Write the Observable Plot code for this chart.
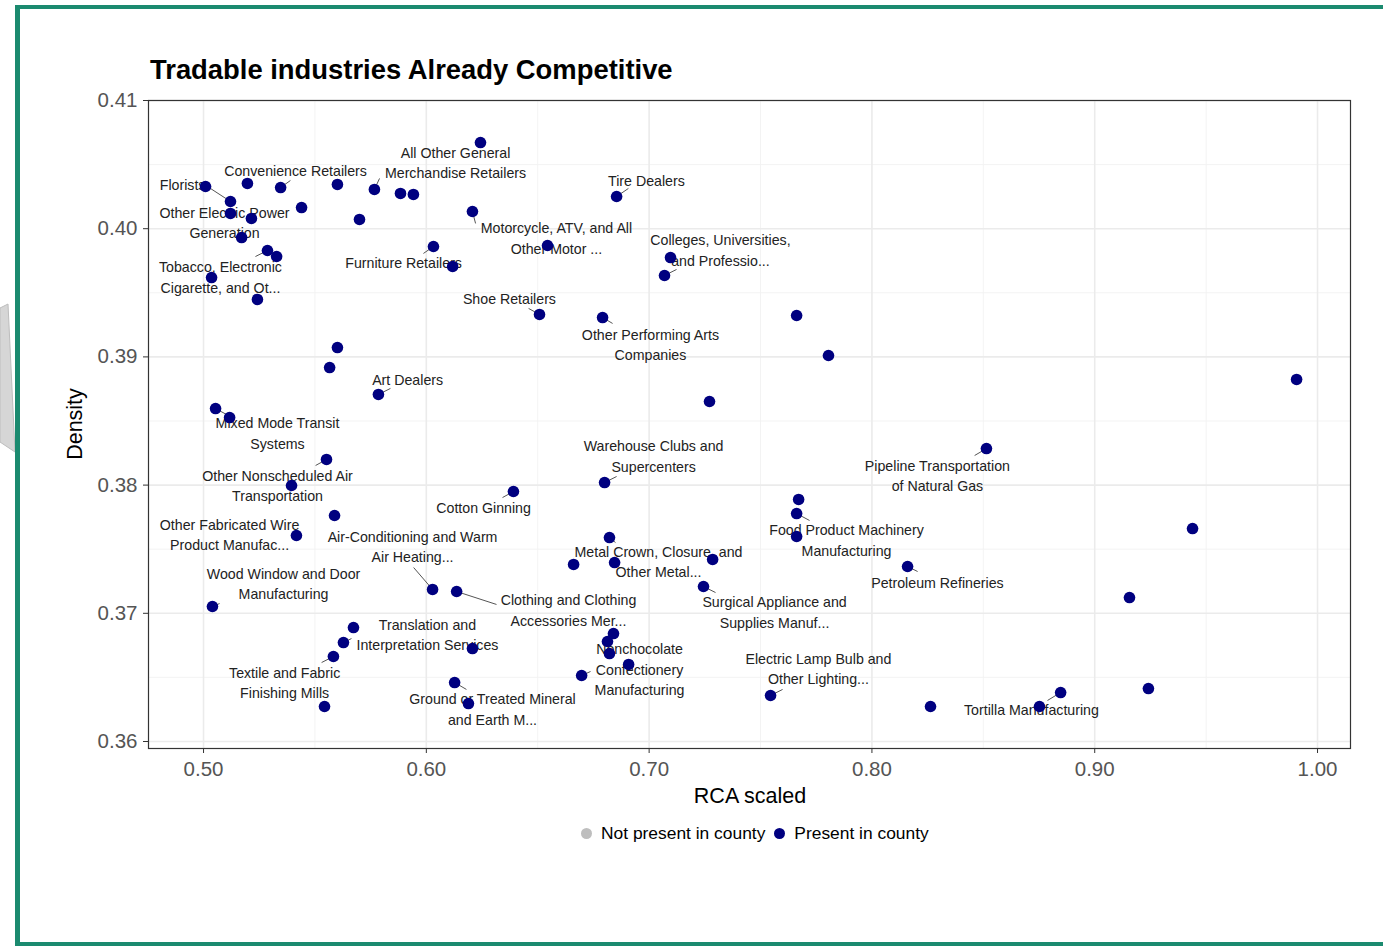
<!DOCTYPE html>
<html>
<head>
<meta charset="utf-8">
<script src="https://cdn.jsdelivr.net/npm/d3@7"></script>
<script src="https://cdn.jsdelivr.net/npm/@observablehq/plot@0.6"></script>
<style>
  html, body { margin: 0; padding: 0; background: #fff; }
  #page { position: relative; width: 1383px; height: 946px; overflow: hidden; background: #fff;
          font-family: "Liberation Sans", Arial, Helvetica, sans-serif; }
  .bar { position: absolute; background: #1b8a6f; }
  #title { position: absolute; left: 150px; top: 54px; font-size: 27.4px; font-weight: bold; color: #000; white-space: nowrap; }
  #xtitle { position: absolute; left: 0; width: 1500px; top: 784px; text-align: center; font-size: 21.5px; color: #000; }
  #ytitle { position: absolute; left: 75px; top: 424px; transform: translate(-50%, -50%) rotate(-90deg); font-size: 21.5px; color: #000; white-space: nowrap; }
  #legend { position: absolute; top: 823px; left: 581px; font-size: 17.4px; color: #000; white-space: nowrap; display: flex; align-items: center; }
  #legend .dot { display: inline-block; width: 11px; height: 11px; border-radius: 50%; margin-right: 9px; }
  #chart { position: absolute; left: 20px; top: 80px; }
</style>
</head>
<body>
<div id="page">
  <svg style="position:absolute;left:0;top:0" width="20" height="946">
    <polygon points="0,308 8,304 15,452 0,442" fill="#d6d6d6" stroke="#bdbdbd" stroke-width="1"></polygon>
  </svg>
  <div class="bar" style="left:15px;top:5px;width:1368px;height:4px;"></div>
  <div class="bar" style="left:15px;top:5px;width:5px;height:941px;"></div>
  <div class="bar" style="left:15px;top:942px;width:1368px;height:4px;"></div>
  <div id="title"></div>
  <div id="chart"></div>
  <div id="xtitle"></div>
  <div id="ytitle"></div>
  <div id="legend"></div>
</div>
<script>
// ---- data ----
const chartTitle = "Tradable industries Already Competitive";
const xLabel = "RCA scaled";
const yLabel = "Density";
const legendLabels = ["Not present in county", "Present in county"];
const legendColors = ["#bebebe", "#000080"];

const rcaScaled = [
  0.6243, 0.5009, 0.5121, 0.5197, 0.5346, 0.5601, 0.5767, 0.5884, 0.5942, 0.5440,
  0.5121, 0.5215, 0.5171, 0.5700, 0.6207, 0.5287, 0.5328, 0.5036, 0.5242, 0.6032,
  0.6118, 0.6544, 0.6854, 0.7096, 0.7069, 0.6508, 0.6791, 0.7662, 0.7805, 0.9906,
  0.5601, 0.5566, 0.5785, 0.5054, 0.5117, 0.7271, 0.5552, 0.5395, 0.6391, 0.5588,
  0.5417, 0.6800, 0.8514, 0.7671, 0.7662, 0.7662, 0.6822, 0.6661, 0.6845, 0.7285,
  0.7244, 0.8160, 0.9439, 0.9156, 0.6028, 0.6136, 0.5040, 0.5673, 0.5628, 0.5583,
  0.6207, 0.6127, 0.6189, 0.5543, 0.6840, 0.6813, 0.6822, 0.6908, 0.6697, 0.7545,
  0.8263, 0.8752, 0.8847, 0.9241
];
const density = [
  0.40672, 0.40329, 0.40212, 0.40353, 0.40321, 0.40345, 0.40306, 0.40275, 0.40267, 0.40165,
  0.40119, 0.40080, 0.39931, 0.40072, 0.40134, 0.39830, 0.39783, 0.39619, 0.39448, 0.39861,
  0.39705, 0.39869, 0.40251, 0.39775, 0.39635, 0.39331, 0.39307, 0.39323, 0.39011, 0.38824,
  0.39073, 0.38917, 0.38707, 0.38597, 0.38527, 0.38652, 0.38200, 0.37997, 0.37950, 0.37763,
  0.37607, 0.38020, 0.38285, 0.37888, 0.37778, 0.37599, 0.37591, 0.37381, 0.37396, 0.37420,
  0.37209, 0.37365, 0.37661, 0.37123, 0.37186, 0.37170, 0.37053, 0.36889, 0.36772, 0.36663,
  0.36725, 0.36460, 0.36296, 0.36273, 0.36842, 0.36780, 0.36686, 0.36601, 0.36515, 0.36359,
  0.36273, 0.36273, 0.36382, 0.36413
];
const presentInCounty = rcaScaled.map(() => true);

// labelled industries: name and index of its point
const labelNames = [
  "All Other General\nMerchandise Retailers", "Convenience Retailers", "Florists",
  "Other Electric Power\nGeneration", "Tobacco, Electronic\nCigarette, and Ot...", "Furniture Retailers",
  "Motorcycle, ATV, and All\nOther Motor ...", "Tire Dealers", "Colleges, Universities,\nand Professio...",
  "Shoe Retailers", "Other Performing Arts\nCompanies", "Art Dealers",
  "Mixed Mode Transit\nSystems", "Other Nonscheduled Air\nTransportation", "Cotton Ginning",
  "Other Fabricated Wire\nProduct Manufac...", "Air-Conditioning and Warm\nAir Heating...", "Warehouse Clubs and\nSupercenters",
  "Pipeline Transportation\nof Natural Gas", "Food Product Machinery\nManufacturing", "Metal Crown, Closure, and\nOther Metal...",
  "Surgical Appliance and\nSupplies Manuf...", "Petroleum Refineries", "Clothing and Clothing\nAccessories Mer...",
  "Wood Window and Door\nManufacturing", "Translation and\nInterpretation Services", "Textile and Fabric\nFinishing Mills",
  "Ground or Treated Mineral\nand Earth M...", "Nonchocolate\nConfectionery\nManufacturing", "Electric Lamp Bulb and\nOther Lighting...",
  "Tortilla Manufacturing"
];
const labelPoint = [6, 4, 2, 10, 15, 19, 14, 22, 24, 25, 26, 32, 33, 36, 38, 40, 54, 41, 42, 44, 46, 50, 51, 55, 56, 58, 59, 61, 68, 69, 72];

// repelled label placement (data units): text centre and leader-line end
const labelLayout = [
  [0.6131, 0.40512, 0.5790, 0.40392], [0.5413, 0.40454, 0.5390, 0.40376], [0.4906, 0.40345, 0.5031, 0.40314],
  [0.5094, 0.40044, null, null],     [0.5076, 0.39619, 0.5233, 0.39783], [0.5898, 0.39736, 0.5987, 0.39807],
  [0.6584, 0.39924, 0.6221, 0.40041], [0.6988, 0.40376, 0.6907, 0.40314], [0.7320, 0.39830, 0.7123, 0.39682],
  [0.6373, 0.39456, 0.6459, 0.39378], [0.7006, 0.39093, 0.6836, 0.39261], [0.5916, 0.38824, 0.5839, 0.38754],
  [0.5332, 0.38402, 0.5103, 0.38551], [0.5332, 0.37993, 0.5503, 0.38153], [0.6257, 0.37825, 0.6342, 0.37903],
  [0.5117, 0.37611, null, null],     [0.5938, 0.37517, 0.5943, 0.37357], [0.7020, 0.38223, 0.6854, 0.38067],
  [0.8294, 0.38071, 0.8461, 0.38231], [0.7886, 0.37568, 0.7720, 0.37724], [0.7042, 0.37400, 0.6849, 0.37552],
  [0.7563, 0.37006, 0.7298, 0.37162], [0.8294, 0.37240, 0.8205, 0.37326], [0.6638, 0.37022, 0.6315, 0.37069],
  [0.5359, 0.37229, 0.5072, 0.37076], [0.6005, 0.36831, 0.5664, 0.36803], [0.5364, 0.36456, 0.5530, 0.36616],
  [0.6297, 0.36250, 0.6180, 0.36406], [0.6957, 0.36562, 0.6737, 0.36546], [0.7760, 0.36565, 0.7599, 0.36406],
  [0.8716, 0.36250, 0.8788, 0.36320]
];

const xTicks = [0.5, 0.6, 0.7, 0.8, 0.9, 1.0];
const xMinor = [0.55, 0.65, 0.75, 0.85, 0.95];
const yTicks = [0.36, 0.37, 0.38, 0.39, 0.40, 0.41];
const yMinor = [0.365, 0.375, 0.385, 0.395, 0.405];

// ---- build ----
const points = rcaScaled.map((x, i) => ({x, y: density[i], present: presentInCounty[i]}));
const labels = labelNames.map((t, i) => ({
  text: t,
  px: rcaScaled[labelPoint[i]], py: density[labelPoint[i]],
  lx: labelLayout[i][0], ly: labelLayout[i][1],
  sx: labelLayout[i][2], sy: labelLayout[i][3]
}));
const segs = labels.filter(d => d.sx != null);

const fmt = d3.format(".2f");
const chart = Plot.plot({
  width: 1363,
  height: 735,
  marginLeft: 128,
  marginRight: 33,
  marginTop: 20,
  marginBottom: 67,
  style: {fontFamily: '"Liberation Sans", Arial, Helvetica, sans-serif', background: "transparent", color: "#4d4d4d"},
  x: {domain: [0.4753, 1.0148]},
  y: {domain: [0.359454, 0.41]},
  marks: [
    Plot.ruleX(xMinor, {stroke: "#f2f2f2", strokeWidth: 0.9}),
    Plot.ruleY(yMinor, {stroke: "#f2f2f2", strokeWidth: 0.9}),
    Plot.ruleX(xTicks, {stroke: "#ebebeb", strokeWidth: 1.6}),
    Plot.ruleY(yTicks, {stroke: "#ebebeb", strokeWidth: 1.6}),
    Plot.frame({stroke: "#333", strokeWidth: 1.2}),
    Plot.axisX(xTicks, {tickSize: 5, tickPadding: 8, tickFormat: fmt, fontSize: 20.5, label: null, stroke: "#333", fill: "#555"}),
    Plot.axisY(yTicks, {tickSize: 5, tickPadding: 6, tickFormat: fmt, fontSize: 20.5, label: null, stroke: "#333", fill: "#555"}),
    Plot.link(segs, {x1: "px", y1: "py", x2: "sx", y2: "sy", stroke: "#555", strokeWidth: 1}),
    Plot.text(labels, {x: "lx", y: "ly", text: "text", fontSize: 14.2, fill: "#222", lineAnchor: "middle", lineHeight: 1.45, textAnchor: "middle", dy: -1.5}),
    Plot.dot(points, {x: "x", y: "y", r: 5.8, fill: d => d.present ? legendColors[1] : legendColors[0], stroke: "none"})
  ]
});
document.getElementById("chart").appendChild(chart);
document.getElementById("title").textContent = chartTitle;
document.getElementById("xtitle").textContent = xLabel;
document.getElementById("ytitle").textContent = yLabel;
const lg = document.getElementById("legend");
legendLabels.forEach((t, i) => {
  const s = document.createElement("span");
  s.style.display = "inline-flex"; s.style.alignItems = "center"; s.style.marginRight = "9px";
  s.innerHTML = `<span class="dot" style="background:${legendColors[i]}"></span>${t}`;
  lg.appendChild(s);
});
</script>
</body>
</html>
